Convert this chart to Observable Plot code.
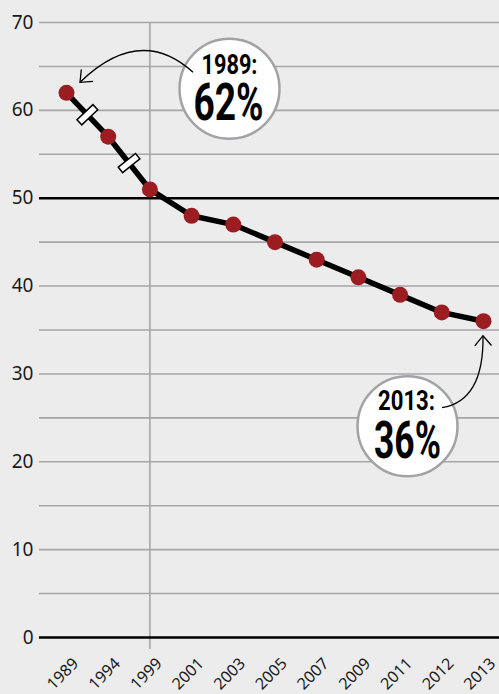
<!DOCTYPE html>
<html>
<head>
<meta charset="utf-8">
<script src="https://cdn.jsdelivr.net/npm/d3@7"></script>
<script src="https://cdn.jsdelivr.net/npm/@observablehq/plot@0.6"></script>
<style>
  html, body { margin: 0; padding: 0; background: #ececec; }
  svg { display: block; }
</style>
</head>
<body>
<div id="chart"></div>
<script>
// ---- data ----
const years  = ["1989","1994","1999","2001","2003","2005","2007","2009","2011","2012","2013"];
const shares = [62, 57, 51, 48, 47, 45, 43, 41, 39, 37, 36];
const yTickValues = [0, 10, 20, 30, 40, 50, 60, 70];
const gridValues  = [5, 10, 15, 20, 25, 30, 35, 40, 45, 55, 60, 65, 70];
const strongValues = [0, 50];
const dividerYear = "1999";
const breakAfterYears = ["1989", "1994"];
const annotationYears  = ["1989", "2013"];
const annotationLabels = ["1989:", "2013:"];
const annotationValues = ["62%", "36%"];

// ---- layout (styles, not data) ----
const W = 499, H = 694, mTop = 22, mBottom = 57, mLeft = 39, mRight = 0;
const xRange = [66, 483];
const layout = {
  "1989": {bx: 163, by: -4, t1: [163, -28], t2: [162, 11], len1: 56, len2: 70,
           arrow: {start: [127, -20], ctrl: [74, -68], end: [14, -10]}},
  "2013": {bx: -76, by: 105, t1: [-77, 80], t2: [-76, 120], len1: 57, len2: 67,
           arrow: {start: [-41, 87], ctrl: [1, 80], end: [0, 15]}}
};

const data = years.map((year, i) => ({i, year, share: shares[i]}));
const pxPerY = (H - mTop - mBottom) / 70;
const step = (xRange[1] - xRange[0]) / (years.length - 1);
const breaks = breakAfterYears.map(y => {
  const i = years.indexOf(y);
  const a = Math.atan2((shares[i] - shares[i + 1]) * pxPerY, step) * 180 / Math.PI;
  return {x: i + 0.5, y: (shares[i] + shares[i + 1]) / 2, angle: a - 90};
});
const anns = annotationYears.map((y, k) => {
  const i = years.indexOf(y);
  return {year: y, i, share: shares[i], label: annotationLabels[k], value: annotationValues[k]};
});

const breakSymbol = {
  draw(ctx) {
    ctx.moveTo(-11, -3.5); ctx.lineTo(11, -3.5); ctx.lineTo(11, 3.5); ctx.lineTo(-11, 3.5); ctx.closePath();
  }
};

const bubbleFont = "Roboto, 'Noto Sans', sans-serif";

const marks = [
  Plot.ruleY(gridValues, {stroke: "#a6a6a9", strokeWidth: 1.6}),
  Plot.ruleX([years.indexOf(dividerYear)], {stroke: "#a6a6a9", strokeWidth: 1.6, insetBottom: -12}),
  Plot.ruleY(strongValues, {stroke: "#000", strokeWidth: 2.6}),
  Plot.text(yTickValues, {y: d => d, text: d => String(d), frameAnchor: "left", textAnchor: "end", dx: -6, fontSize: 19, fill: "#1a1a1a"}),
  Plot.text(data, {x: "i", text: "year", frameAnchor: "bottom", rotate: -45, textAnchor: "end", dx: 13, dy: 27, fontSize: 16, fill: "#1a1a1a"}),
  Plot.line(data, {x: "i", y: "share", stroke: "#000", strokeWidth: 5.5}),
  Plot.dot(breaks, {x: "x", y: "y", symbol: breakSymbol, r: 5, fill: "#fff", stroke: "#000", strokeWidth: 1.5, rotate: "angle"}),
  Plot.dot(data, {x: "i", y: "share", r: 8, fill: "#9b1d22"})
];
for (const a of anns) {
  const L = layout[a.year];
  marks.push(Plot.dot([a], {x: "i", y: "share", r: 50, dx: L.bx, dy: L.by, fill: "#fff", stroke: "#a3a3a6", strokeWidth: 2.5}));
  marks.push(Plot.text([a], {x: "i", y: "share", text: "label", dx: L.t1[0], dy: L.t1[1], fontSize: 28, fontWeight: "bold", fontFamily: bubbleFont, fill: "#000"}));
  marks.push(Plot.text([a], {x: "i", y: "share", text: "value", dx: L.t2[0], dy: L.t2[1], fontSize: 52, fontWeight: "bold", fontFamily: bubbleFont, fill: "#000"}));
}

const svg = Plot.plot({
  width: W, height: H,
  marginTop: mTop, marginBottom: mBottom, marginLeft: mLeft, marginRight: mRight,
  x: {type: "linear", domain: [0, years.length - 1], range: xRange, axis: null},
  y: {domain: [0, 70], axis: null},
  style: {background: "#ececec", fontFamily: "'Noto Sans', sans-serif", overflow: "visible"},
  marks
});

// condense the bubble texts to the reference's narrow letterforms
for (const a of anns) {
  const L = layout[a.year];
  d3.select(svg).selectAll("text")
    .filter(function() { return this.textContent === a.label; })
    .attr("textLength", L.len1).attr("lengthAdjust", "spacingAndGlyphs");
  d3.select(svg).selectAll("text")
    .filter(function() { return this.textContent === a.value; })
    .attr("textLength", L.len2).attr("lengthAdjust", "spacingAndGlyphs");
}

// curved annotation arrows, anchored to data points via Plot's scales
const sx = svg.scale("x"), sy = svg.scale("y");
const g = d3.select(svg).append("g").attr("fill", "none").attr("stroke", "#000").attr("stroke-width", 1.3);
for (const a of anns) {
  const L = layout[a.year].arrow;
  const px = sx.apply(a.i), py = sy.apply(a.share);
  const s = [px + L.start[0], py + L.start[1]];
  const c = [px + L.ctrl[0], py + L.ctrl[1]];
  const e = [px + L.end[0], py + L.end[1]];
  g.append("path").attr("d", `M${s[0]},${s[1]}Q${c[0]},${c[1]} ${e[0]},${e[1]}`);
  const back = Math.atan2(c[1] - e[1], c[0] - e[0]);
  const len = 13, spread = 40 * Math.PI / 180;
  const p1 = [e[0] + len * Math.cos(back + spread), e[1] + len * Math.sin(back + spread)];
  const p2 = [e[0] + len * Math.cos(back - spread), e[1] + len * Math.sin(back - spread)];
  g.append("path").attr("d", `M${p1[0]},${p1[1]}L${e[0]},${e[1]}L${p2[0]},${p2[1]}`);
}

document.getElementById("chart").appendChild(svg);
</script>
</body>
</html>
